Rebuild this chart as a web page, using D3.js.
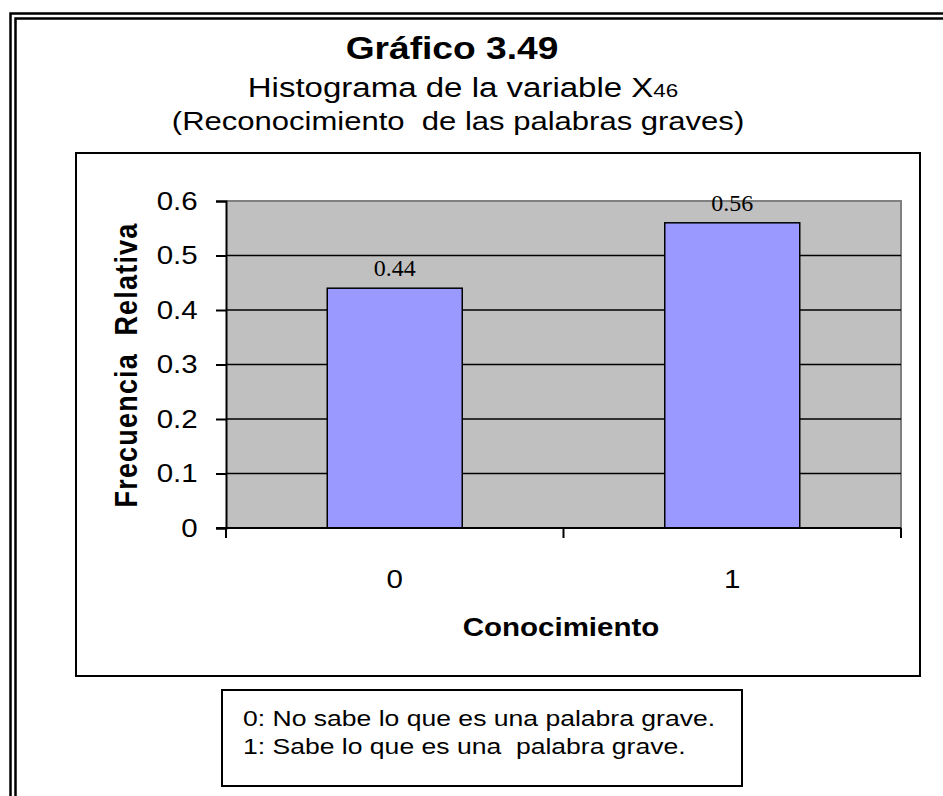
<!DOCTYPE html>
<html lang="es">
<head>
<meta charset="utf-8">
<title>Gráfico 3.49</title>
<script src="https://cdn.jsdelivr.net/npm/d3@7"></script>
<style>
  body { margin: 0; background: #fff; }
  svg text { font-family: "Liberation Sans", Arial, sans-serif; fill: #000; white-space: pre; }
  .lbl { font-family: "Liberation Serif", "Times New Roman", serif; }
</style>
</head>
<body>
<div id="chart"></div>
<script>
// data
var categories = ["0", "1"];
var values = [0.44, 0.56];
var valueLabels = ["0.44", "0.56"];
var yTicks = [0, 0.1, 0.2, 0.3, 0.4, 0.5, 0.6];
var yTickLabels = ["0", "0.1", "0.2", "0.3", "0.4", "0.5", "0.6"];
var legendLines = ["0: No sabe lo que es una palabra grave.", "1: Sabe lo que es una  palabra grave."];

var W = 943, H = 796;
var sx = 1.18; // the reference text is a bit wide
var plot = {left: 226, right: 901, top: 201, bottom: 528};

var svg = d3.select("#chart").append("svg")
    .attr("width", W)
    .attr("height", H);

// double page frame
svg.append("rect").attr("x", 10.5).attr("y", 13.5).attr("width", 960).attr("height", 820)
    .attr("fill", "none").attr("stroke", "#000").attr("stroke-width", 2.5);
svg.append("rect").attr("x", 15.5).attr("y", 18.5).attr("width", 960).attr("height", 820)
    .attr("fill", "none").attr("stroke", "#000").attr("stroke-width", 2.5);

function stretchText(x, y, str, size, weight, anchor) {
  return svg.append("text")
      .attr("transform", "translate(" + x + "," + y + ") scale(" + sx + ",1)")
      .attr("text-anchor", anchor || "middle")
      .style("font-size", size + "px")
      .style("font-weight", weight || "normal")
      .text(str);
}

// titles
stretchText(452, 59, "Gráfico 3.49", 31.5, "bold");
var sub = stretchText(463, 97, "Histograma de la variable X", 28);
sub.append("tspan").style("font-size", "19px").text("46");
stretchText(458, 130, "(Reconocimiento  de las palabras graves)", 26.3);

// chart box
svg.append("rect").attr("x", 76).attr("y", 153).attr("width", 844).attr("height", 523)
    .attr("fill", "#fff").attr("stroke", "#000").attr("stroke-width", 2);

var x = d3.scaleBand().domain(categories).range([plot.left, plot.right]);
var y = d3.scaleLinear().domain([0, 0.6]).range([plot.bottom, plot.top]);

var g = svg.append("g");

// plot area
g.append("rect")
    .attr("x", plot.left).attr("y", y(0.6))
    .attr("width", plot.right - plot.left).attr("height", y(0) - y(0.6))
    .attr("fill", "#c0c0c0");
g.append("path")
    .attr("d", "M" + plot.left + "," + y(0.6) + "H" + plot.right + "V" + y(0))
    .attr("fill", "none").attr("stroke", "#808080").attr("stroke-width", 2);

// gridlines
g.selectAll(".grid").data(yTicks.filter(function(d) { return d > 0 && d < 0.6; }))
  .enter().append("line")
    .attr("x1", plot.left).attr("x2", plot.right)
    .attr("y1", function(d) { return y(d); }).attr("y2", function(d) { return y(d); })
    .attr("stroke", "#000").attr("stroke-width", 1.5);

// bars
var bw = x.bandwidth() * 0.4;
g.selectAll(".bar").data(values).enter().append("rect")
    .attr("x", function(d, i) { return x(categories[i]) + x.bandwidth() / 2 - bw / 2; })
    .attr("y", function(d) { return y(d); })
    .attr("width", bw)
    .attr("height", function(d) { return y(0) - y(d); })
    .attr("fill", "#9999ff").attr("stroke", "#000").attr("stroke-width", 1.5);

// value labels
g.selectAll(".lbl").data(values).enter().append("text")
    .attr("class", "lbl")
    .attr("transform", function(d, i) {
      return "translate(" + (x(categories[i]) + x.bandwidth() / 2) + "," + (y(d) - 12) + ")";
    })
    .attr("text-anchor", "middle")
    .style("font-size", "24px")
    .text(function(d, i) { return valueLabels[i]; });

// y axis
var yAxis = d3.axisLeft(y).tickValues(yTicks).tickSize(10).tickPadding(14)
    .tickFormat(function(d, i) { return yTickLabels[i]; });
var ya = g.append("g").attr("transform", "translate(" + plot.left + ",0)").call(yAxis);
ya.select(".domain").attr("stroke", "#000").attr("stroke-width", 2);
ya.selectAll(".tick line").attr("stroke", "#000").attr("stroke-width", 2);
ya.selectAll(".tick text").style("font-size", "25px")
    .attr("transform", "scale(" + sx + ",1)");

// x axis: baseline, ticks between categories, centered labels
g.append("line").attr("x1", plot.left - 10).attr("x2", plot.right)
    .attr("y1", y(0)).attr("y2", y(0)).attr("stroke", "#000").attr("stroke-width", 2);
var bounds = categories.map(function(c) { return x(c); }).concat([x.range()[1]]);
g.selectAll(".xtick").data(bounds).enter().append("line")
    .attr("x1", function(d) { return d; }).attr("x2", function(d) { return d; })
    .attr("y1", y(0)).attr("y2", y(0) + 10)
    .attr("stroke", "#000").attr("stroke-width", 2);
var xAxis = d3.axisBottom(x).tickSize(0).tickPadding(42);
var xa = g.append("g").attr("transform", "translate(0," + y(0) + ")").call(xAxis);
xa.select(".domain").remove();
xa.selectAll(".tick text").style("font-size", "25px")
    .attr("transform", "scale(" + sx + ",1)");

// axis titles
stretchText(561, 636, "Conocimiento", 25, "bold");
svg.append("text")
    .attr("transform", "translate(137,365) scale(" + sx + ",1) rotate(-90)")
    .attr("text-anchor", "middle")
    .style("font-size", "27px").style("font-weight", "bold")
    .style("letter-spacing", "1.2px")
    .text("Frecuencia  Relativa");

// legend box
svg.append("rect").attr("x", 222).attr("y", 690).attr("width", 520).attr("height", 96)
    .attr("fill", "#fff").attr("stroke", "#000").attr("stroke-width", 2);
legendLines.forEach(function(t, i) {
  stretchText(243, 726 + i * 28, t, 22.5, "normal", "start");
});
</script>
</body>
</html>
